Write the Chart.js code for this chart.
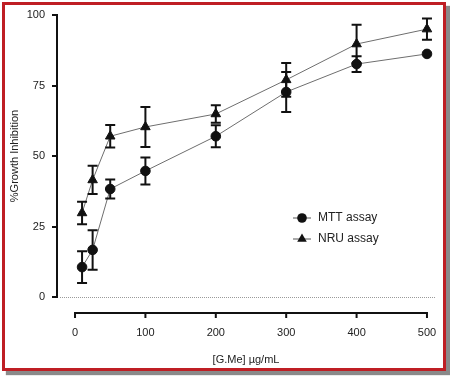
<!DOCTYPE html>
<html>
<head>
<meta charset="utf-8">
<script src="https://cdn.jsdelivr.net/npm/chart.js@4/dist/chart.umd.min.js"></script>
<style>
  html, body { margin: 0; padding: 0; background: #fff; }
  #wrap { position: relative; width: 450px; height: 377px; }
  #frame {
    position: absolute; left: 2px; top: 2px; width: 438px; height: 363px;
    border: 3px solid #bf1e24; box-shadow: 4px 4px 1px #8a8a8a; pointer-events: none;
  }
</style>
</head>
<body>
<div id="wrap">
  <canvas id="growth" width="450" height="377"></canvas>
  <div id="frame"></div>
</div>
<script>
// concentrations of G.Me (µg/mL)
const concentrations = [10, 25, 50, 100, 200, 300, 400, 500];
// % growth inhibition, mean and error
const mttValues = [10.6, 16.7, 38.3, 44.7, 57, 72.7, 82.6, 86.2];
const mttErrors = [5.6, 7, 3.4, 4.8, 3.9, 7.1, 2.8, 0];
const nruValues = [29.8, 41.5, 57, 60.3, 64.9, 77, 89.7, 95];
const nruErrors = [4, 5, 4, 7.1, 3.1, 6, 6.8, 3.8];
const xTicks = [0, 100, 200, 300, 400, 500];
const yTicks = [0, 25, 50, 75, 100];

const font = { family: 'Liberation Sans, Arial, sans-serif', size: 11 };

// error bars, zero line, detached x axis line and inside legend
const extras = {
    id: 'extras',
    beforeDatasetsDraw(chart) {
        const ctx = chart.ctx;
        const xs = chart.scales.x, ys = chart.scales.y;
        const area = chart.chartArea;
        ctx.save();
        // dotted zero line
        ctx.strokeStyle = '#9a9a9a';
        ctx.lineWidth = 1;
        ctx.setLineDash([1, 1]);
        ctx.beginPath();
        ctx.moveTo(area.left + 3, ys.getPixelForValue(0) + 0.5);
        ctx.lineTo(area.right, ys.getPixelForValue(0) + 0.5);
        ctx.stroke();
        ctx.setLineDash([]);

        // x axis line below the plot
        const axisY = ys.getPixelForValue(0) + 16;
        ctx.strokeStyle = '#111';
        ctx.lineWidth = 2;
        ctx.beginPath();
        ctx.moveTo(xs.getPixelForValue(xTicks[0]) - 1, axisY);
        ctx.lineTo(xs.getPixelForValue(xTicks[xTicks.length - 1]) + 1, axisY);
        xTicks.forEach(v => {
            const px = xs.getPixelForValue(v);
            ctx.moveTo(px, axisY);
            ctx.lineTo(px, axisY + 5);
        });
        ctx.stroke();
        ctx.restore();
    },
    afterDatasetsDraw(chart) {
        const ctx = chart.ctx;
        const xs = chart.scales.x, ys = chart.scales.y;
        ctx.save();
        ctx.strokeStyle = '#111';
        ctx.lineWidth = 2;
        const series = [[mttValues, mttErrors], [nruValues, nruErrors]];
        series.forEach(([vals, errs]) => {
            vals.forEach((v, i) => {
                if (!errs[i]) return;
                const px = xs.getPixelForValue(concentrations[i]);
                const top = ys.getPixelForValue(v + errs[i]);
                const bot = ys.getPixelForValue(v - errs[i]);
                ctx.beginPath();
                ctx.moveTo(px, top);
                ctx.lineTo(px, bot);
                ctx.moveTo(px - 5, top);
                ctx.lineTo(px + 5, top);
                ctx.moveTo(px - 5, bot);
                ctx.lineTo(px + 5, bot);
                ctx.stroke();
            });
        });

        // legend
        const items = chart.data.datasets;
        items.forEach((ds, i) => {
            const y = 218 + i * 21;
            ctx.strokeStyle = '#555';
            ctx.lineWidth = 1;
            ctx.beginPath();
            ctx.moveTo(293, y);
            ctx.lineTo(311, y);
            ctx.stroke();
            ctx.fillStyle = '#111';
            ctx.beginPath();
            if (ds.pointStyle === 'triangle') {
                const r = ds.pointRadius;
                ctx.moveTo(302, y - r);
                ctx.lineTo(302 + r * 0.87, y + r * 0.5);
                ctx.lineTo(302 - r * 0.87, y + r * 0.5);
                ctx.closePath();
            } else {
                ctx.arc(302, y, ds.pointRadius, 0, Math.PI * 2);
            }
            ctx.fill();
            ctx.fillStyle = '#222';
            ctx.font = '12px Liberation Sans, Arial, sans-serif';
            ctx.textBaseline = 'middle';
            ctx.fillText(ds.label, 318, y);
        });
        ctx.restore();
    }
};

const growthData = {
    datasets: [{
        label: 'MTT assay',
        data: concentrations.map((c, i) => ({ x: c, y: mttValues[i] })),
        borderColor: '#6e6e6e',
        borderWidth: 1,
        pointStyle: 'circle',
        pointRadius: 4.8,
        pointBackgroundColor: '#111',
        pointBorderColor: '#111',
        pointBorderWidth: 1
    }, {
        label: 'NRU assay',
        data: concentrations.map((c, i) => ({ x: c, y: nruValues[i] })),
        borderColor: '#6e6e6e',
        borderWidth: 1,
        pointStyle: 'triangle',
        pointRadius: 5.5,
        pointBackgroundColor: '#111',
        pointBorderColor: '#111',
        pointBorderWidth: 1
    }]
};

const growthConfig = {
    type: 'line',
    data: growthData,
    options: {
        responsive: false,
        animation: false,
        layout: { padding: { top: 15, right: 15, bottom: 0, left: 0 } },
        plugins: {
            legend: { display: false },
            tooltip: { enabled: false }
        },
        scales: {
            x: {
                type: 'linear',
                min: -25.6,
                max: 511.4,
                afterBuildTicks: axis => { axis.ticks = xTicks.map(v => ({ value: v })); },
                afterFit: scale => {
                    scale.height = 80;
                    scale.paddingLeft = 0;
                    scale.paddingRight = 0;
                },
                grid: { display: false },
                border: { display: false },
                ticks: { color: '#222', font: font, padding: 21, maxRotation: 0 },
                title: {
                    display: true,
                    text: '[G.Me] µg/mL',
                    color: '#222',
                    font: font,
                    padding: { top: 0, bottom: 10 }
                }
            },
            y: {
                min: 0,
                max: 100,
                afterBuildTicks: axis => { axis.ticks = yTicks.map(v => ({ value: v })); },
                afterFit: scale => {
                    scale.width = 57;
                    scale.paddingTop = 0;
                    scale.paddingBottom = 0;
                },
                grid: {
                    drawOnChartArea: false,
                    color: '#111',
                    lineWidth: 2,
                    tickLength: 5
                },
                border: { display: true, color: '#111', width: 2 },
                ticks: { color: '#222', font: font, padding: 7 },
                title: {
                    display: true,
                    text: '%Growth Inhibition',
                    color: '#222',
                    font: font,
                    padding: { top: 8, bottom: 0 }
                }
            }
        }
    },
    plugins: [extras]
};

const growthChart = new Chart(document.getElementById('growth'), growthConfig);
</script>
</body>
</html>
